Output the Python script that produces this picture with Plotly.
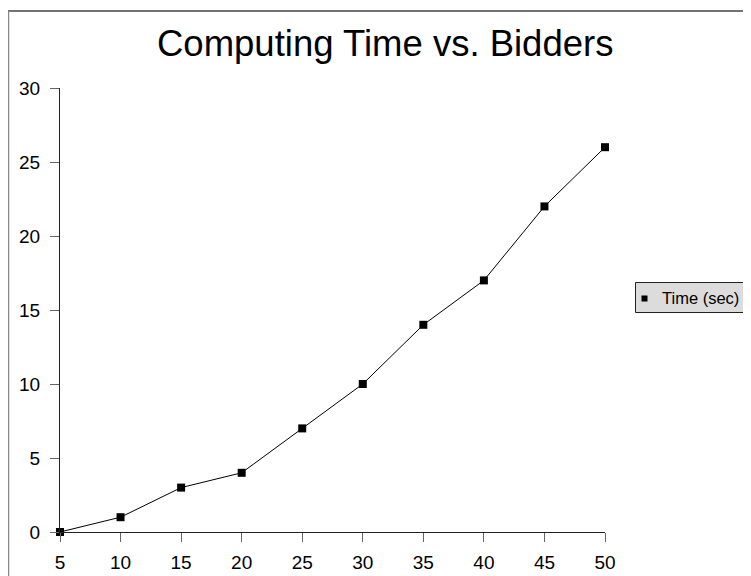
import plotly.graph_objects as go

bidders = [5, 10, 15, 20, 25, 30, 35, 40, 45, 50]
time_sec = [0, 1, 3, 4, 7, 10, 14, 17, 22, 26]
x_ticks = [5, 10, 15, 20, 25, 30, 35, 40, 45, 50]
y_ticks = [0, 5, 10, 15, 20, 25, 30]
series_name = "Time (sec)"
title_text = "Computing Time vs. Bidders"

# The page body has an 8px margin, so the figure starts at screen (8, 8).
OFF = 8
W, H = 751 - OFF, 576 - OFF
# plot area in screen pixels: x 60..605, y 88..532
L, R, T, B = 60 - OFF, 751 - 605, 88 - OFF, 576 - 532
pw, ph = W - L - R, H - T - B

def px(x):
    return (x - OFF - L) / pw

def py(y):
    return (H - B - (y - OFF)) / ph

fig = go.Figure()
fig.add_trace(go.Scatter(
    x=bidders, y=time_sec, mode="lines+markers", name=series_name,
    line=dict(color="black", width=1),
    marker=dict(symbol="square", size=8, color="black"),
    cliponaxis=False, showlegend=False,
))

font = "Liberation Sans, Arial, sans-serif"
fig.update_layout(
    width=W, height=H,
    margin=dict(l=L, r=R, t=T, b=B, autoexpand=False),
    paper_bgcolor="white", plot_bgcolor="white",
    font=dict(family=font, color="black"),
    showlegend=False,
    xaxis=dict(range=[5, 50], tickvals=x_ticks, showgrid=False, zeroline=False,
               showline=True, linecolor="#222", linewidth=1,
               ticks="outside", ticklen=9, tickcolor="#666",
               tickfont=dict(size=19), ticklabelstandoff=4, automargin=False),
    yaxis=dict(range=[0, 30], tickvals=y_ticks, showgrid=False, zeroline=False,
               showline=True, linecolor="#222", linewidth=1,
               ticks="outside", ticklen=9, tickcolor="#666",
               tickfont=dict(size=19), ticklabelstandoff=6, automargin=False),
    annotations=[
        dict(text=title_text, xref="paper", yref="paper",
             x=px(384.5), y=py(43), xanchor="center", yanchor="middle",
             showarrow=False, font=dict(size=36.5, family=font)),
        dict(text=series_name, xref="paper", yref="paper",
             x=px(660), y=py(297.5), xanchor="left", yanchor="middle",
             showarrow=False, font=dict(size=16.5, family=font)),
    ],
    shapes=[
        dict(type="line", xref="paper", yref="paper", x0=px(8), x1=px(751),
             y0=py(11), y1=py(11), line=dict(color="#444", width=1.5)),
        dict(type="line", xref="paper", yref="paper", x0=px(8.5), x1=px(8.5),
             y0=py(11), y1=py(577), line=dict(color="#888", width=1.5)),
        # legend box and symbol
        dict(type="rect", xref="paper", yref="paper", x0=px(635.5), x1=px(748.5),
             y0=py(282.5), y1=py(312.5), fillcolor="#dcdcdc",
             line=dict(color="#222", width=1), layer="below"),
        dict(type="rect", xref="paper", yref="paper", x0=px(641.5), x1=px(647.5),
             y0=py(295.5), y1=py(301.5), fillcolor="black",
             line=dict(color="black", width=0)),
    ],
)
fig.write_html("out.html")
